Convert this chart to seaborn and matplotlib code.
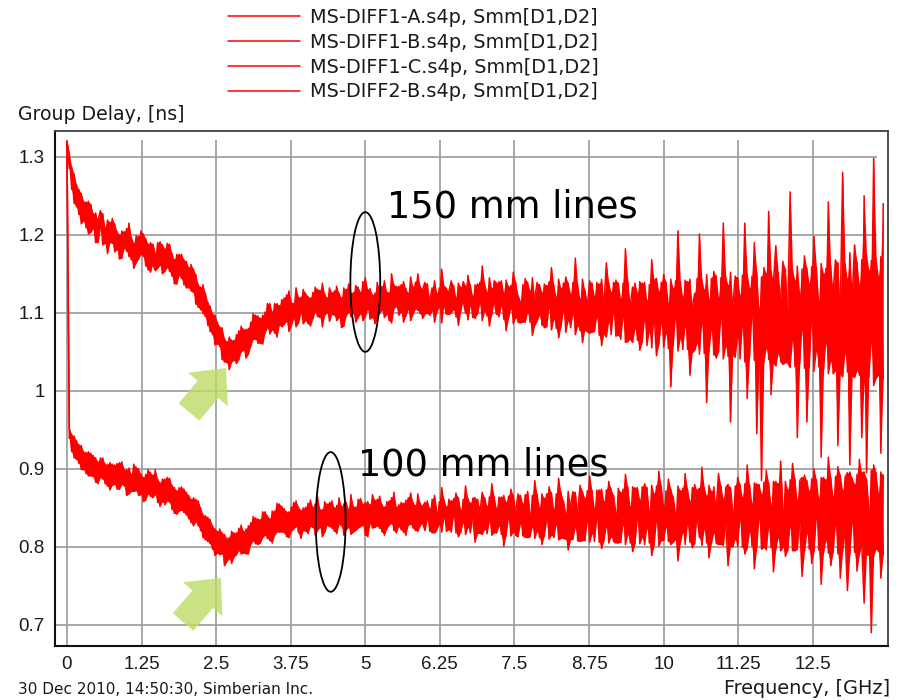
import numpy as np
import pandas as pd
import matplotlib
matplotlib.use("Agg")
import matplotlib.pyplot as plt
import matplotlib.patches as mpatches
from matplotlib.transforms import IdentityTransform
import seaborn as sns

# ---------------- data (group delay in ps, i.e. ns*1000) ----------------
FREQ_STEP_GHZ = 0.04   # sweep step of the measured data

series_names = [
    "MS-DIFF1-A.s4p, Smm[D1,D2]",
    "MS-DIFF1-B.s4p, Smm[D1,D2]",
    "MS-DIFF1-C.s4p, Smm[D1,D2]",
    "MS-DIFF2-B.s4p, Smm[D1,D2]",
]
line_groups = ["150 mm", "150 mm", "100 mm", "100 mm"]

diff1_a = [
    1320, 1303, 1258, 1278, 1236, 1258, 1214, 1243, 1209, 1243,
    1203, 1227, 1190, 1218, 1231, 1187, 1209, 1176, 1216, 1189,
    1214, 1181, 1200, 1170, 1204, 1179, 1215, 1168, 1189, 1164,
    1198, 1175, 1201, 1160, 1188, 1152, 1188, 1175, 1157, 1191,
    1150, 1182, 1158, 1188, 1147, 1168, 1137, 1175, 1144, 1168,
    1132, 1158, 1128, 1156, 1111, 1136, 1104, 1136, 1095, 1114,
    1076, 1099, 1059, 1088, 1057, 1081, 1037, 1063, 1027, 1065,
    1039, 1072, 1040, 1083, 1052, 1079, 1047, 1088, 1066, 1097,
    1061, 1093, 1060, 1101, 1081, 1112, 1078, 1112, 1069, 1109,
    1082, 1119, 1089, 1128, 1083, 1112, 1082, 1120, 1100, 1130,
    1090, 1121, 1083, 1126, 1101, 1130, 1094, 1138, 1097, 1119,
    1089, 1126, 1097, 1134, 1094, 1119, 1083, 1130, 1101, 1125,
    1099, 1135, 1094, 1126, 1090, 1145, 1105, 1131, 1094, 1125,
    1092, 1130, 1103, 1141, 1098, 1126, 1087, 1136, 1108, 1134,
    1101, 1140, 1096, 1125, 1090, 1133, 1105, 1150, 1099, 1130,
    1139, 1099, 1116, 1132, 1088, 1125, 1107, 1156, 1112, 1098,
    1127, 1141, 1104, 1119, 1084, 1133, 1116, 1100, 1148, 1109,
    1121, 1093, 1137, 1112, 1160, 1102, 1126, 1083, 1131, 1115,
    1098, 1140, 1109, 1125, 1077, 1134, 1106, 1152, 1094, 1122,
    1113, 1088, 1144, 1101, 1128, 1071, 1119, 1139, 1097, 1126,
    1081, 1135, 1106, 1158, 1092, 1120, 1068, 1131, 1103, 1146,
    1090, 1124, 1099, 1170, 1083, 1117, 1062, 1129, 1108, 1141,
    1075, 1121, 1095, 1137, 1058, 1112, 1164, 1089, 1126, 1100,
    1142, 1071, 1118, 1094, 1182, 1063, 1110, 1133, 1080, 1125,
    1052, 1138, 1091, 1115, 1076, 1168, 1099, 1045, 1127, 1086,
    1149, 1074, 1112, 1005, 1131, 1095, 1205, 1067, 1120, 1083,
    1140, 1020, 1107, 1125, 1061, 1201, 1088, 1129, 985, 1116,
    1078, 1153, 1042, 1119, 1094, 1215, 1057, 1135, 960, 1109,
    1147, 1069, 1122, 1083, 1215, 990, 1131, 1096, 1190, 945,
    1104, 885, 1158, 1055, 1230, 995, 1139, 1186, 1048, 1118,
    1166, 1036, 1102, 1255, 1065, 1141, 940, 1124, 1079, 1173,
    960, 1137, 1090, 1198, 1051, 1114, 915, 1150, 1062, 1242,
    1038, 1127, 1168, 930, 1102, 1280, 1049, 1143, 905, 1121,
    1187, 1026, 1135, 940, 1250, 895, 1154, 1061, 1298, 1016,
    1146, 920, 1240]

diff1_b = [
    1318, 1285, 1287, 1240, 1264, 1226, 1253, 1218, 1242, 1201,
    1239, 1208, 1228, 1190, 1210, 1227, 1189, 1219, 1190, 1221,
    1178, 1204, 1169, 1205, 1183, 1208, 1172, 1197, 1157, 1199,
    1169, 1205, 1172, 1195, 1155, 1190, 1163, 1154, 1190, 1161,
    1187, 1153, 1189, 1153, 1176, 1137, 1175, 1148, 1175, 1136,
    1166, 1132, 1162, 1126, 1149, 1107, 1133, 1099, 1125, 1084,
    1108, 1072, 1097, 1060, 1082, 1040, 1067, 1036, 1069, 1037,
    1065, 1035, 1077, 1050, 1079, 1042, 1080, 1057, 1099, 1066,
    1096, 1061, 1097, 1074, 1112, 1073, 1101, 1074, 1112, 1084,
    1117, 1085, 1123, 1076, 1114, 1093, 1132, 1087, 1120, 1086,
    1125, 1086, 1119, 1092, 1133, 1095, 1129, 1082, 1124, 1100,
    1132, 1098, 1128, 1090, 1125, 1081, 1132, 1096, 1137, 1095,
    1126, 1088, 1133, 1099, 1140, 1095, 1130, 1092, 1123, 1086,
    1139, 1100, 1134, 1094, 1127, 1090, 1150, 1105, 1134, 1097,
    1136, 1088, 1131, 1104, 1146, 1098, 1139, 1103, 1134, 1093,
    1099, 1137, 1097, 1103, 1141, 1101, 1132, 1087, 1134, 1131,
    1098, 1100, 1135, 1095, 1138, 1102, 1140, 1133, 1091, 1136,
    1094, 1136, 1099, 1139, 1090, 1137, 1096, 1145, 1098, 1141,
    1138, 1095, 1141, 1092, 1142, 1093, 1135, 1086, 1139, 1088,
    1087, 1136, 1088, 1139, 1088, 1145, 1084, 1090, 1136, 1084,
    1137, 1082, 1140, 1078, 1135, 1080, 1143, 1082, 1138, 1075,
    1138, 1081, 1139, 1072, 1135, 1077, 1143, 1078, 1076, 1074,
    1138, 1076, 1139, 1071, 1143, 1074, 1069, 1138, 1072, 1139,
    1070, 1138, 1066, 1138, 1062, 1140, 1067, 1062, 1138, 1065,
    1140, 1062, 1139, 1058, 1136, 1055, 1141, 1144, 1060, 1139,
    1056, 1139, 1054, 1143, 1058, 1141, 1051, 1140, 1053, 1142,
    1053, 1143, 1049, 1052, 1144, 1047, 1143, 1048, 1149, 1050,
    1144, 1046, 1147, 1050, 1145, 1041, 1146, 1044, 1152, 1048,
    1043, 1145, 1041, 1148, 1037, 1150, 1044, 1147, 1039, 1152,
    1039, 1146, 1036, 1150, 1040, 1154, 1037, 1032, 1152, 1038,
    1034, 1156, 1036, 1030, 1155, 1031, 1160, 1035, 1156, 1029,
    1157, 1030, 1159, 1025, 1158, 1031, 1163, 1027, 1157, 1022,
    1160, 1022, 1026, 1164, 1023, 1018, 1163, 1024, 1177, 1020,
    1017, 1165, 1020, 1168, 1012, 1174, 1018, 1167, 1007, 1170,
    1020, 1172, 1015]

diff1_c = [
    1320, 953, 922, 942, 912, 931, 899, 922, 894, 922,
    891, 917, 883, 909, 889, 914, 881, 906, 873, 906,
    880, 907, 874, 909, 878, 899, 868, 893, 871, 902,
    866, 893, 858, 893, 868, 895, 863, 899, 857, 882,
    858, 887, 859, 888, 848, 876, 842, 876, 847, 874,
    841, 866, 831, 863, 832, 859, 821, 841, 809, 838,
    804, 827, 789, 820, 790, 818, 776, 811, 785, 820,
    787, 818, 795, 828, 792, 823, 791, 831, 808, 837,
    803, 835, 812, 845, 811, 836, 805, 846, 819, 855,
    819, 849, 813, 845, 820, 857, 826, 851, 811, 850,
    820, 856, 826, 851, 815, 864, 825, 848, 819, 855,
    826, 859, 820, 853, 829, 852, 815, 857, 825, 867,
    819, 851, 824, 862, 828, 857, 813, 854, 824, 860,
    827, 865, 819, 851, 823, 859, 830, 870, 818, 854,
    822, 856, 815, 863, 829, 857, 821, 868, 827, 852,
    857, 835, 849, 818, 866, 843, 829, 876, 837, 851,
    822, 859, 840, 869, 813, 847, 831, 878, 825, 856,
    838, 806, 861, 844, 870, 823, 852, 833, 881, 818,
    849, 827, 864, 801, 857, 836, 874, 819, 846, 868,
    830, 855, 812, 871, 841, 826, 885, 820, 850, 803,
    862, 834, 877, 815, 848, 829, 888, 811, 859, 840,
    796, 853, 871, 825, 845, 879, 808, 862, 832, 891,
    817, 849, 836, 873, 798, 858, 826, 884, 813, 866,
    842, 805, 870, 829, 893, 816, 851, 794, 876, 835,
    860, 812, 881, 824, 846, 789, 868, 833, 897, 808,
    852, 826, 887, 803, 864, 838, 782, 872, 819, 894,
    829, 858, 799, 880, 841, 812, 902, 823, 865, 786,
    871, 818, 849, 894, 803, 861, 830, 776, 876, 842,
    810, 889, 835, 863, 791, 905, 820, 855, 772, 881,
    837, 867, 799, 898, 826, 853, 768, 884, 812, 910,
    845, 788, 873, 826, 907, 795, 859, 832, 762, 892,
    818, 871, 779, 900, 837, 861, 752, 889, 809, 915,
    776, 864, 828, 903, 760, 872, 819, 744, 896, 831,
    880, 769, 912, 803, 728, 887, 845, 690, 905, 797,
    868, 760, 892]

diff2_b = [
    1316, 939, 944, 914, 936, 907, 930, 899, 921, 891,
    920, 890, 914, 881, 914, 887, 906, 878, 908, 879,
    905, 874, 908, 880, 899, 866, 901, 871, 906, 872,
    900, 867, 889, 860, 899, 865, 892, 867, 887, 852,
    887, 854, 889, 857, 879, 843, 872, 846, 877, 844,
    870, 836, 861, 827, 861, 827, 850, 812, 840, 807,
    835, 797, 823, 792, 823, 791, 816, 781, 812, 779,
    818, 790, 824, 791, 820, 791, 827, 803, 839, 804,
    836, 805, 845, 815, 840, 808, 846, 815, 856, 819,
    852, 818, 845, 812, 851, 823, 859, 818, 847, 821,
    851, 817, 860, 825, 855, 821, 848, 813, 858, 828,
    857, 824, 850, 817, 863, 827, 855, 822, 848, 816,
    852, 821, 861, 826, 855, 815, 858, 830, 867, 825,
    861, 824, 854, 815, 858, 828, 863, 821, 851, 826,
    857, 819, 860, 828, 869, 824, 853, 820, 856, 831,
    821, 859, 820, 861, 818, 822, 858, 819, 860, 820,
    861, 819, 862, 818, 863, 819, 861, 816, 862, 818,
    862, 863, 817, 818, 816, 863, 817, 864, 815, 864,
    818, 864, 816, 866, 815, 865, 814, 866, 815, 813,
    866, 814, 867, 812, 813, 866, 811, 867, 812, 868,
    814, 868, 810, 869, 812, 868, 809, 870, 811, 810,
    871, 809, 810, 870, 808, 807, 871, 808, 872, 806,
    872, 807, 873, 806, 874, 808, 873, 805, 874, 807,
    805, 875, 806, 874, 803, 876, 805, 877, 804, 876,
    804, 877, 803, 876, 805, 879, 802, 878, 801, 878,
    808, 872, 807, 874, 806, 810, 878, 805, 875, 803,
    874, 806, 876, 804, 872, 875, 802, 876, 805, 879,
    804, 877, 805, 803, 878, 802, 876, 880, 801, 800,
    878, 801, 880, 800, 881, 798, 879, 801, 882, 799,
    880, 797, 883, 796, 882, 799, 884, 797, 881, 795,
    800, 884, 796, 886, 795, 887, 797, 885, 889, 794,
    885, 797, 887, 794, 886, 796, 889, 793, 886, 792,
    889, 793, 890, 791, 892, 794, 889, 895, 790, 888,
    793, 893, 790, 894, 896, 791, 789, 898, 788, 895,
    794, 896, 790]

series_values = [diff1_a, diff1_b, diff1_c, diff2_b]

x_ticks = [0, 1.25, 2.5, 3.75, 5, 6.25, 7.5, 8.75, 10, 11.25, 12.5]
x_tick_labels = ["0", "1.25", "2.5", "3.75", "5", "6.25", "7.5", "8.75", "10", "11.25", "12.5"]
y_ticks = [0.7, 0.8, 0.9, 1.0, 1.1, 1.2, 1.3]
y_tick_labels = ["0.7", "0.8", "0.9", "1", "1.1", "1.2", "1.3"]

# ---------------- build table ----------------
frames = []
for name, grp, vals in zip(series_names, line_groups, series_values):
    v = np.asarray(vals, dtype=float) / 1000.0
    f = np.round(np.arange(len(v)) * FREQ_STEP_GHZ, 3)
    frames.append(pd.DataFrame({"freq": f, "delay": v, "series": name, "group": grp}))
df = pd.concat(frames, ignore_index=True)

# ---------------- figure ----------------
sns.set_style("white")
plt.rcParams["font.family"] = ["DejaVu Sans"]

W, H = 901, 700
RED = "#ff0000"
fig = plt.figure(figsize=(W / 100, H / 100), dpi=100)
ax = fig.add_axes([55 / W, 1 - 646 / H, (888 - 55) / W, (646 - 131) / H])

# spread of the overlapping sweeps of each line length (min..max)
sns.lineplot(data=df, x="freq", y="delay", hue="group", palette=[RED, RED],
             estimator="mean", errorbar=("pi", 100), linewidth=0,
             err_kws={"alpha": 1.0, "linewidth": 0, "zorder": 2},
             legend=False, ax=ax, zorder=2)
# the individual traces
n_before = len(ax.get_lines())
sns.lineplot(data=df, x="freq", y="delay", hue="series", hue_order=series_names,
             palette=[RED] * 4, estimator=None, sort=False,
             linewidth=1.1, legend=False, ax=ax, zorder=3)
trace_lines = ax.get_lines()[n_before:n_before + 4]

ax.set_xlim(-0.2, 13.76)
ax.set_ylim(0.673, 1.333)
ax.set_xticks(x_ticks)
ax.set_xticklabels(x_tick_labels)
ax.set_yticks(y_ticks)
ax.set_yticklabels(y_tick_labels)
ax.set_xlabel("")
ax.set_ylabel("")

for lab in ax.get_xticklabels() + ax.get_yticklabels():
    lab.set_fontfamily(["Liberation Sans", "DejaVu Sans"])
    lab.set_fontsize(13.5)
    lab.set_color("#1a1a1a")

# grid (vertical lines stop just below the top frame, horizontal ones before the right frame)
ax.grid(False)
ax.vlines(x_ticks, 0.673, 1.3214, colors="#a0a0a0", linewidth=1.3, zorder=1)
ax.hlines(y_ticks, -0.2, 13.58, colors="#a0a0a0", linewidth=1.3, zorder=1)

ax.tick_params(axis="both", direction="inout", length=9, width=1.3, color="#111111", pad=3)
for side in ["left", "bottom"]:
    ax.spines[side].set_color("#111111")
    ax.spines[side].set_linewidth(1.5)
for side in ["top", "right"]:
    ax.spines[side].set_color("#404040")
    ax.spines[side].set_linewidth(1.3)

# ellipses marking the traces
ax.add_patch(mpatches.Ellipse((5.0, 1.1395), width=0.50, height=0.179,
                              fill=False, edgecolor="black", linewidth=1.3, zorder=5))
ax.add_patch(mpatches.Ellipse((4.42, 0.832), width=0.50, height=0.179,
                              fill=False, edgecolor="black", linewidth=1.3, zorder=5))

ax.text(5.37, 1.2227, "150 mm lines", fontsize=26.5, color="black",
        va="baseline", ha="left", zorder=6)
ax.text(4.87, 0.891, "100 mm lines", fontsize=26.5, color="black",
        va="baseline", ha="left", zorder=6)

# green block arrows (pixel coordinates, origin bottom-left)
for (tx, ty, dx, dy) in [(189, H - 412, 37, 44), (183, H - 622, 38, 44)]:
    arr = mpatches.FancyArrow(tx, ty, dx, dy, width=27, head_width=52, head_length=28,
                              length_includes_head=True, color="#bcdc66", alpha=0.8,
                              linewidth=0, transform=IdentityTransform(), zorder=7)
    fig.add_artist(arr)

# legend at the top
fig.legend(handles=trace_lines, labels=series_names, loc="upper left",
           bbox_to_anchor=(228 / W, 1 - 8 / H), frameon=False, fontsize=13.9,
           handlelength=3.75, handletextpad=0.5, labelspacing=0.3,
           borderpad=0, borderaxespad=0, labelcolor="#1a1a1a")

fig.text(18 / W, 1 - 115 / H, "Group Delay, [ns]", ha="left", va="center",
         fontsize=13.6, color="#1a1a1a")
fig.text(890 / W, 1 - 688 / H, "Frequency, [GHz]", ha="right", va="center",
         fontsize=13.9, color="#1a1a1a")
fig.text(18 / W, 1 - 690 / H, "30 Dec 2010, 14:50:30, Simberian Inc.", ha="left", va="center",
         fontsize=11, color="#1a1a1a")

fig.savefig("out.png", dpi=100)
